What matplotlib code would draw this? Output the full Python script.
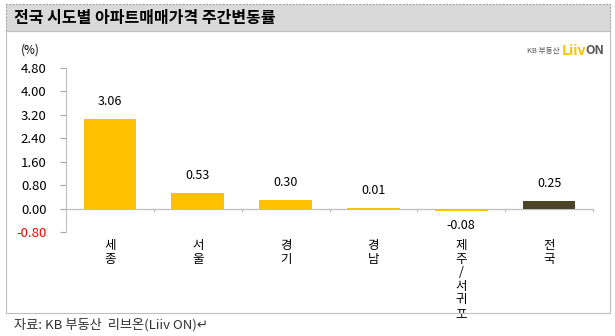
import matplotlib
matplotlib.use("Agg")
import numpy as np
import matplotlib.pyplot as plt
from matplotlib.patches import Rectangle

plt.rcParams['font.family'] = ['Noto Sans CJK KR', 'DejaVu Sans']

regions = ['세종', '서울', '경기', '경남', '제주/서귀포', '전국']
changes = [3.06, 0.53, 0.30, 0.01, -0.08, 0.25]
bar_colors = ['#FFC000', '#FFC000', '#FFC000', '#FFC000', '#FFC000', '#4B4528']
yticks = [-0.80, 0.00, 0.80, 1.60, 2.40, 3.20, 4.00, 4.80]

fig = plt.figure(figsize=(6.15, 3.36), dpi=100)
W, H = 615, 336

# title bar and chart frame
fig.patches.append(Rectangle((6 / W, 1 - 31 / H), 604 / W, 27 / H, transform=fig.transFigure,
                             facecolor='#D9D9D9', edgecolor='#A6A6A6', lw=0.8, ls=(0, (2, 1))))
fig.patches.append(Rectangle((6 / W, 1 - 313 / H), 604 / W, 282 / H, transform=fig.transFigure,
                             facecolor='none', edgecolor='#BFBFBF', lw=0.8))
fig.text(14 / W, 1 - 18 / H, '전국 시도별 아파트매매가격 주간변동률', fontsize=11.5,
         fontweight='bold', va='center', ha='left')

ax = fig.add_axes([66 / W, 1 - 232 / H, (593 - 66) / W, (232 - 68) / H])
x = np.arange(len(regions))
ax.bar(x, changes, width=0.6, color=bar_colors, zorder=2)
ax.set_xlim(-0.5, len(regions) - 0.5)
ax.set_ylim(-0.8, 4.8)
ax.set_yticks(yticks)
ax.set_yticklabels(['%.2f' % v for v in yticks], fontsize=9.5)
ax.get_yticklabels()[0].set_color('red')
ax.tick_params(axis='y', length=4, color='#A6A6A6', pad=10)

for s in ['top', 'right', 'bottom']:
    ax.spines[s].set_visible(False)
ax.spines['left'].set_color('#BFBFBF')
ax.axhline(0, color='#BFBFBF', lw=0.9, zorder=1)

# category boundary ticks on the zero line
ax.set_xticks([])
for b in np.arange(0.5, len(regions), 1.0):
    ax.plot([b, b], [0, -0.1], color='#BFBFBF', lw=0.9, clip_on=False)

for xi, v in zip(x, changes):
    if v >= 0:
        ax.annotate('%.2f' % v, (xi, v), xytext=(0, 8), textcoords='offset points',
                    ha='center', va='bottom', fontsize=9)
    else:
        ax.annotate('%.2f' % v, (xi, v), xytext=(0, -6), textcoords='offset points',
                    ha='center', va='top', fontsize=9)

for xi, name in zip(x, regions):
    ax.text(xi, -1.05, '\n'.join(name), ha='center', va='top', fontsize=9,
            linespacing=1.05, transform=ax.transData)

fig.text(30 / W, 1 - 50 / H, '(%)', fontsize=8.5, ha='center', va='center')

# logo
fig.text(560 / W, 1 - 51 / H, 'KB 부동산', fontsize=5.5, ha='right', va='center', color='#555555')
fig.text(562 / W, 1 - 51 / H, 'Liiv', fontsize=10, fontweight='bold', ha='left', va='center',
         color='#FFC000')
fig.text(585 / W, 1 - 51 / H, 'ON', fontsize=9, fontweight='bold', ha='left', va='center',
         color='#555555')

fig.text(14 / W, 1 - 325 / H, '자료: KB 부동산  리브온(Liiv ON)↵', fontsize=9.5,
         ha='left', va='center', color='#333333')

fig.savefig('out.png', dpi=100)
